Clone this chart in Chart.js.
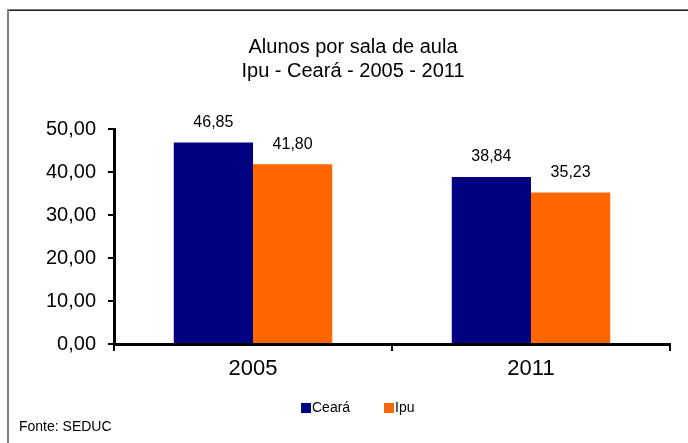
<!DOCTYPE html>
<html>
<head>
<meta charset="utf-8">
<script src="https://cdn.jsdelivr.net/npm/chart.js@4.4.0/dist/chart.umd.min.js"></script>
<style>
  html, body { margin: 0; padding: 0; background: #ffffff; }
  #wrap { width: 688px; height: 443px; position: relative; }
</style>
</head>
<body>
<div id="wrap"><canvas id="c" width="688" height="443"></canvas></div>
<script>
const categories = ["2005", "2011"];
const cearaValues = [46.85, 38.84];
const ipuValues = [41.80, 35.23];
const seriesNames = ["Ceará", "Ipu"];
const titleLines = ["Alunos por sala de aula", "Ipu - Ceará - 2005 - 2011"];
const sourceText = "Fonte: SEDUC";
const yMin = 0, yMax = 50, yStep = 10;

const FONT = "'Liberation Sans', Arial, sans-serif";
const fmt = v => v.toFixed(2).replace('.', ',');

const decorPlugin = {
  id: 'decor',
  beforeDraw(chart) {
    const ctx = chart.ctx;
    ctx.save();
    ctx.fillStyle = '#ffffff';
    ctx.fillRect(0, 0, chart.width, chart.height);
    ctx.strokeStyle = '#7f7f7f';
    ctx.lineWidth = 2;
    ctx.beginPath();
    ctx.moveTo(8, 460);
    ctx.lineTo(8, 10);
    ctx.lineTo(700, 10);
    ctx.stroke();
    ctx.strokeStyle = '#222222';
    ctx.lineWidth = 1;
    ctx.beginPath();
    ctx.moveTo(9, 10.5);
    ctx.lineTo(700, 10.5);
    ctx.stroke();
    ctx.restore();
  },
  afterDraw(chart) {
    const ctx = chart.ctx;
    ctx.save();
    ctx.fillStyle = '#000000';
    ctx.textAlign = 'center';
    ctx.textBaseline = 'middle';
    ctx.font = "20px " + FONT;
    ctx.fillText(titleLines[0], 353, 47);
    ctx.fillText(titleLines[1], 353, 71);
    ctx.font = "16px " + FONT;
    chart.data.datasets.forEach((ds, di) => {
      const meta = chart.getDatasetMeta(di);
      meta.data.forEach((bar, i) => {
        ctx.fillText(fmt(ds.data[i]), bar.x, bar.y - 20);
      });
    });
    ctx.font = "14px " + FONT;
    ctx.textAlign = 'left';
    const legendX = [301, 384];
    chart.data.datasets.forEach((ds, di) => {
      ctx.fillStyle = ds.backgroundColor;
      ctx.fillRect(legendX[di], 403, 10, 10);
      ctx.fillStyle = '#000000';
      ctx.fillText(ds.label, legendX[di] + 11, 408);
    });
    ctx.fillText(sourceText, 19, 427);
    ctx.restore();
  }
};

new Chart(document.getElementById('c'), {
  type: 'bar',
  data: {
    labels: categories,
    datasets: [
      { label: seriesNames[0], data: cearaValues, backgroundColor: '#000080', borderWidth: 0 },
      { label: seriesNames[1], data: ipuValues, backgroundColor: '#FF6600', borderWidth: 0 }
    ]
  },
  options: {
    responsive: false,
    animation: false,
    devicePixelRatio: 1,
    layout: { padding: { left: 10, top: 129, right: 18, bottom: 59 } },
    datasets: { bar: { categoryPercentage: 0.57, barPercentage: 1.0 } },
    plugins: {
      legend: { display: false },
      title: { display: false },
      tooltip: { enabled: false }
    },
    scales: {
      x: {
        offset: true,
        afterFit(scale) { scale.height = 40; },
        grid: { display: true, drawOnChartArea: false, offset: true, tickLength: 7, color: '#000000', lineWidth: 2 },
        border: { display: true, color: '#000000', width: 3 },
        ticks: { color: '#000000', font: { family: FONT, size: 22 }, padding: 5 }
      },
      y: {
        min: yMin, max: yMax,
        afterFit(scale) { scale.width = 104; },
        grid: { display: true, drawOnChartArea: false, tickLength: 6, color: '#000000', lineWidth: 2 },
        border: { display: true, color: '#000000', width: 3 },
        ticks: { stepSize: yStep, color: '#000000', font: { family: FONT, size: 20 }, padding: 12, callback: v => fmt(v) }
      }
    }
  },
  plugins: [decorPlugin]
});
</script>
</body>
</html>
